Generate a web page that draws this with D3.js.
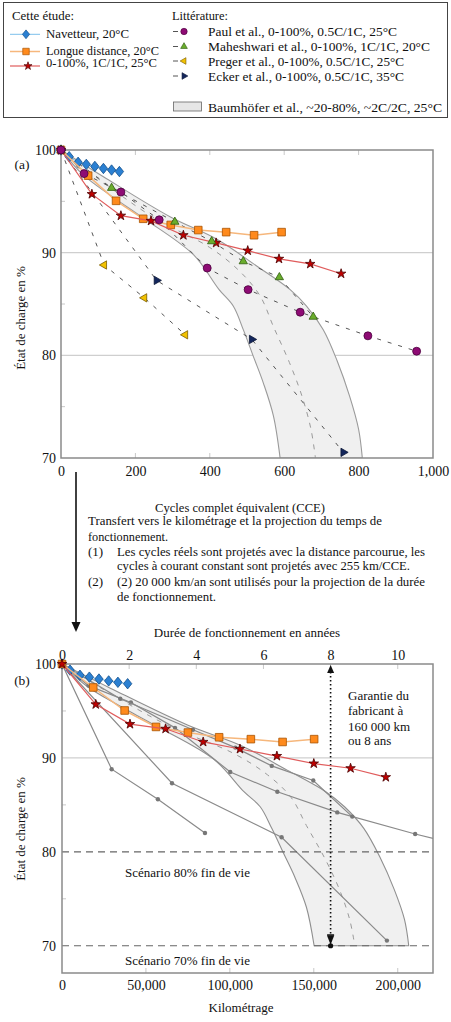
<!DOCTYPE html>
<html><head><meta charset="utf-8">
<script src="https://cdn.jsdelivr.net/npm/d3@7"></script>
<style>
body{margin:0;background:#fff}
svg{display:block}
text{font-family:"Liberation Serif","Times New Roman",serif;fill:#111}
</style>
</head><body>
<svg id="c" width="451" height="1022"></svg>
<script>
// ---------------- DATA ----------------
const KM_PER_CCE = 255;
const KM_PER_YEAR = 20000;

// Cette étude
const navCycles = [0, 22, 46, 68, 91, 114, 136, 157];
const navKm     = [0, 4800, 10700, 16300, 22000, 27800, 33300, 39100];
const navSoc    = [100, 99.35, 98.8, 98.6, 98.4, 98.2, 98.05, 97.9];

const ldCycles = [0, 73, 148, 221, 295, 369, 444, 519, 593];
const ldKm     = [0, 18600, 37300, 56000, 75000, 93600, 112500, 131400, 150200];
const ldSoc    = [100, 97.5, 95.05, 93.3, 92.7, 92.2, 92.0, 91.7, 92.0];

const ccCycles = [0, 83, 161, 242, 329, 417, 502, 586, 670, 753];
const ccKm     = [0, 20100, 40500, 61700, 84100, 106000, 128000, 150000, 171900, 192900];
const ccSoc    = [100, 95.7, 93.6, 93.1, 91.7, 90.95, 90.2, 89.4, 88.9, 87.95];

// Littérature
const paulCycles = [0, 62, 161, 264, 393, 503, 643, 825, 956];
const paulSoc    = [100, 97.7, 95.9, 93.2, 88.5, 86.4, 84.2, 81.9, 80.4];

const mahCycles = [0, 136, 306, 405, 490, 587, 678];
const mahSoc    = [100, 96.3, 93.0, 91.1, 89.15, 87.6, 83.75];

const pregCycles = [0, 116, 224, 334];
const pregSoc    = [100, 88.8, 85.6, 82.0];

const eckCycles = [0, 257, 513, 759];
const eckSoc    = [100, 87.3, 81.55, 70.55];

// Baumhöfer band
const bandLeftCycles  = [0, 59, 132, 220, 356, 425, 463, 490, 517, 544, 571, 589];
const bandLeftSoc     = [100, 97.6, 95.6, 93.4, 89.8, 86.4, 84.8, 82.5, 79.9, 77.3, 74.1, 70];
const bandRightCycles = [0, 114, 293, 419, 526, 616, 660, 705, 742, 776, 800, 810];
const bandRightSoc    = [100, 97.4, 93.5, 91.3, 88.7, 86.4, 84.8, 82.5, 79.5, 76.0, 72.8, 70];
const bandMidCycles   = [0, 100, 250, 400, 480, 535, 571, 614, 648, 672, 684];
const bandMidSoc      = [100, 97.2, 93.4, 90.5, 88.2, 85.8, 82.8, 79.3, 76.0, 72.8, 70];

// Ticks
const cycleTicks = [0, 200, 400, 600, 800, 1000];
const kmTicks    = [0, 50000, 100000, 150000, 200000];
const yearTicks  = [0, 2, 4, 6, 8, 10];
const socTicksA  = [70, 80, 90, 100];
const socTicksB  = [70, 80, 90, 100];
const minorSoc   = [75, 85, 95];
const warrantyKm = 160000;

// ---------------- STYLES ----------------
const zip = (a, b) => a.map((v, i) => [v, b[i]]);
const diamondSym = { draw(ctx, size) { const w = 4.2, h = 5.2; ctx.moveTo(0, -h); ctx.lineTo(w, 0); ctx.lineTo(0, h); ctx.lineTo(-w, 0); ctx.closePath(); } };
const studySeries = [
  {name:"Navetteur,  20°C", w:83, cyc:navCycles, km:navKm, soc:navSoc, line:"#7cc0ec", lw:1, sym:diamondSym, size:1, fill:"#2b80d2", stroke:"#134f8c", rot:0},
  {name:"Longue distance, 20°C", w:113, cyc:ldCycles, km:ldKm, soc:ldSoc, line:"#f6b77c", lw:1.5, sym:d3.symbolSquare, size:58, fill:"#ff8a1c", stroke:"#a85300", rot:0},
  {name:"0-100%,  1C/1C,  25°C", w:111, cyc:ccCycles, km:ccKm, soc:ccSoc, line:"#e05c5c", lw:1.2, sym:d3.symbolStar, size:28, fill:"#c00000", stroke:"#4a0000", rot:0}
];
const litSeries = [
  {name:"Paul et al., 0-100%, 0.5C/1C, 25°C", w:189, cyc:paulCycles, soc:paulSoc, sym:d3.symbolCircle, size:50, fill:"#8e0b74", stroke:"#4a003c", rot:0},
  {name:"Maheshwari et al., 0-100%, 1C/1C, 20°C", w:222, cyc:mahCycles, soc:mahSoc, sym:d3.symbolTriangle, size:30, fill:"#6aad2c", stroke:"#2e5c0e", rot:0},
  {name:"Preger et al., 0-100%, 0.5C/1C, 25°C", w:196, cyc:pregCycles, soc:pregSoc, sym:d3.symbolTriangle, size:30, fill:"#f2c200", stroke:"#7a5c00", rot:-90},
  {name:"Ecker et al., 0-100%, 0.5C/1C, 35°C", w:196, cyc:eckCycles, soc:eckSoc, sym:d3.symbolTriangle, size:30, fill:"#13265c", stroke:"#0a1535", rot:90}
];

const svg = d3.select("#c");

function marker(g, x, y, s, scale) {
  g.append("path")
    .attr("d", d3.symbol().type(s.sym).size(s.size)())
    .attr("transform", `translate(${x},${y}) rotate(${s.rot}) scale(${scale || 1})`)
    .attr("fill", s.fill).attr("stroke", s.stroke).attr("stroke-width", 0.8);
}
function fitText(g, x, y, t, w, fs) {
  const el = g.append("text").attr("x", x).attr("y", y).attr("font-size", fs).text(t);
  if (w) el.attr("textLength", w).attr("lengthAdjust", "spacingAndGlyphs");
  return el;
}

// ---------------- LEGEND ----------------
const lg = svg.append("g");
lg.append("rect").attr("x", 3.5).attr("y", 2.5).attr("width", 444).attr("height", 115)
  .attr("fill", "none").attr("stroke", "#444").attr("stroke-width", 1);
fitText(lg, 12, 20, "Cette étude:", 62, 12.5);
fitText(lg, 172, 20, "Littérature:", 56, 12.5);
const studyRowY = [34.3, 51.5, 66];
const studyTextY = [37.5, 54.5, 67];
const studyMarkX = [26, 26, 28];
studySeries.forEach((s, i) => {
  lg.append("line").attr("x1", 10).attr("x2", 40).attr("y1", studyRowY[i]).attr("y2", studyRowY[i])
    .attr("stroke", s.line).attr("stroke-width", s.lw);
  marker(lg, studyMarkX[i], studyRowY[i], s, 0.85);
  fitText(lg, 46, studyTextY[i], s.name, s.w, 11.5);
});
const litRowY = [31.5, 46.5, 61, 76];
litSeries.forEach((s, i) => {
  lg.append("line").attr("x1", 173).attr("x2", 178).attr("y1", litRowY[i]).attr("y2", litRowY[i])
    .attr("stroke", "#555").attr("stroke-width", 1);
  marker(lg, 184, litRowY[i], s, 0.8);
  fitText(lg, 208, litRowY[i] + 4.5, s.name, s.w, 13.5);
});
lg.append("rect").attr("x", 173.5).attr("y", 102).attr("width", 28).attr("height", 9)
  .attr("fill", "#e6e6e6").attr("stroke", "#666").attr("stroke-width", 0.8);
fitText(lg, 208, 111.5, "Baumhöfer et al., ~20-80%, ~2C/2C, 25°C", 234, 13.5);

// ---------------- PANEL helper ----------------
function bandPath(x, y, f) {
  const ln = d3.line().x(d => x(d[0] * f)).y(d => y(d[1])).curve(d3.curveCatmullRom.alpha(0.5));
  const L = zip(bandLeftCycles, bandLeftSoc);
  const R = zip(bandRightCycles, bandRightSoc).reverse();
  return ln(L) + ln(R).replace(/^M/, "L") + "Z";
}
function clip(g, id, xr, yr) {
  g.append("clipPath").attr("id", id).append("rect")
    .attr("x", xr[0]).attr("y", yr[1]).attr("width", xr[1] - xr[0]).attr("height", yr[0] - yr[1]);
}
function styleAxis(a) {
  a.select(".domain").remove();
  a.selectAll("text").attr("font-size", 14).attr("font-family", '"Liberation Serif",serif').attr("fill", "#111");
}

// ---------------- PANEL A ----------------
const xA = d3.scaleLinear().domain([0, 1000]).range([61, 433]);
const yA = d3.scaleLinear().domain([70, 100]).range([458, 150]);
const gA = svg.append("g");
clip(gA, "clipA", xA.range(), yA.range());
[80, 90].forEach(v => gA.append("line").attr("x1", xA(0)).attr("x2", xA(1000)).attr("y1", yA(v)).attr("y2", yA(v))
  .attr("stroke", "#cfcfcf").attr("stroke-width", 1.2));
minorSoc.forEach(v => gA.append("line").attr("x1", xA(0)).attr("x2", xA(0) + 4).attr("y1", yA(v)).attr("y2", yA(v))
  .attr("stroke", "#c8c8c8"));
cycleTicks.slice(1, -1).forEach(v => {
  gA.append("line").attr("x1", xA(v)).attr("x2", xA(v)).attr("y1", yA(100)).attr("y2", yA(100) + 5).attr("stroke", "#c8c8c8");
  gA.append("line").attr("x1", xA(v)).attr("x2", xA(v)).attr("y1", yA(70)).attr("y2", yA(70) - 5).attr("stroke", "#c8c8c8");
});
const plotA = gA.append("g").attr("clip-path", "url(#clipA)");
plotA.append("path").attr("d", bandPath(xA, yA, 1)).attr("fill", "#f0f0f0").attr("stroke", "#9a9a9a").attr("stroke-width", 1.1);
plotA.append("path").datum(zip(bandMidCycles, bandMidSoc))
  .attr("d", d3.line().x(d => xA(d[0])).y(d => yA(d[1])).curve(d3.curveCatmullRom.alpha(0.5)))
  .attr("fill", "none").attr("stroke", "#9a9a9a").attr("stroke-width", 1).attr("stroke-dasharray", "5,6");
litSeries.forEach(s => {
  plotA.append("path").datum(zip(s.cyc, s.soc))
    .attr("d", d3.line().x(d => xA(d[0])).y(d => yA(d[1])))
    .attr("fill", "none").attr("stroke", "#555").attr("stroke-width", 1).attr("stroke-dasharray", "4,7");
});
gA.append("rect").attr("x", 61).attr("y", 150).attr("width", 372).attr("height", 308)
  .attr("fill", "none").attr("stroke", "#8a8a8a").attr("stroke-width", 1.5);
studySeries.forEach(s => {
  gA.append("path").datum(zip(s.cyc, s.soc))
    .attr("d", d3.line().x(d => xA(d[0])).y(d => yA(d[1])))
    .attr("fill", "none").attr("stroke", s.line).attr("stroke-width", s.lw);
  zip(s.cyc, s.soc).forEach(d => marker(gA, xA(d[0]), yA(d[1]), s));
});
litSeries.slice().reverse().forEach(s => zip(s.cyc, s.soc).forEach(d => marker(gA, xA(d[0]), yA(d[1]), s)));
const axA = gA.append("g").attr("transform", `translate(0,${yA(70)})`)
  .call(d3.axisBottom(xA).tickValues(cycleTicks).tickFormat(d3.format(",")).tickSize(0).tickPadding(8));
const ayA = gA.append("g").attr("transform", `translate(${xA(0)},0)`)
  .call(d3.axisLeft(yA).tickValues(socTicksA).tickSize(0).tickPadding(5));
styleAxis(axA); styleAxis(ayA);
gA.append("text").attr("x", 22).attr("y", 168.5).attr("font-size", 13.5).attr("text-anchor", "middle").text("(a)");
gA.append("text").attr("transform", "translate(25,318) rotate(-90)").attr("font-size", 13).attr("text-anchor", "middle").text("État de charge en %");
gA.append("text").attr("x", 240).attr("y", 512).attr("font-size", 13).attr("text-anchor", "middle")
  .attr("textLength", 170).attr("lengthAdjust", "spacingAndGlyphs").text("Cycles  complet équivalent (CCE)");

// ---------------- MIDDLE TEXT + ARROW ----------------
const mid = svg.append("g");
const midLines = [
  {x: 88, y: 525, w: 294, t: "Transfert vers le kilométrage  et la projection du temps de"},
  {x: 88, y: 541, w: 80, t: "fonctionnement."},
  {x: 88, y: 556, w: 0, t: "(1)"},
  {x: 117, y: 556, w: 308, t: "Les cycles réels sont projetés avec la distance parcourue, les"},
  {x: 117, y: 570, w: 293, t: "cycles à courant constant sont projetés avec 255 km/CCE."},
  {x: 88, y: 586, w: 0, t: "(2)"},
  {x: 117, y: 586, w: 308, t: "(2) 20 000  km/an sont utilisés pour la projection de la durée"},
  {x: 117, y: 601, w: 99, t: "de fonctionnement."}
];
midLines.forEach(l => fitText(mid, l.x, l.y, l.t, l.w, 13));
svg.append("line").attr("x1", 76).attr("x2", 76).attr("y1", 472).attr("y2", 624).attr("stroke", "#111").attr("stroke-width", 1.6);
svg.append("path").attr("d", "M71.5,622 L80.5,622 L76,632 Z").attr("fill", "#111");

// ---------------- PANEL B ----------------
const xB = d3.scaleLinear().domain([0, 221000]).range([62, 433]);
const yB = d3.scaleLinear().domain([67.1, 100]).range([973, 664]);
const xYears = d3.scaleLinear().domain([0, 221000 / KM_PER_YEAR]).range([62, 433]);
const gB = svg.append("g");
clip(gB, "clipB", xB.range(), yB.range());
gB.append("line").attr("x1", xB(0)).attr("x2", xB(221000)).attr("y1", yB(90)).attr("y2", yB(90)).attr("stroke", "#cfcfcf").attr("stroke-width", 1.2);
minorSoc.forEach(v => gB.append("line").attr("x1", xB(0)).attr("x2", xB(0) + 4).attr("y1", yB(v)).attr("y2", yB(v)).attr("stroke", "#c8c8c8"));
kmTicks.slice(1).forEach(v => gB.append("line").attr("x1", xB(v)).attr("x2", xB(v)).attr("y1", yB(67.1)).attr("y2", yB(67.1) - 5).attr("stroke", "#c8c8c8"));
yearTicks.slice(1).forEach(v => gB.append("line").attr("x1", xYears(v)).attr("x2", xYears(v)).attr("y1", yB(100)).attr("y2", yB(100) + 5).attr("stroke", "#c8c8c8"));
const plotB = gB.append("g").attr("clip-path", "url(#clipB)");
plotB.append("path").attr("d", bandPath(xB, yB, KM_PER_CCE)).attr("fill", "#f0f0f0").attr("stroke", "#8f8f8f").attr("stroke-width", 1.1);
plotB.append("path").datum(zip(bandMidCycles, bandMidSoc))
  .attr("d", d3.line().x(d => xB(d[0] * KM_PER_CCE)).y(d => yB(d[1])).curve(d3.curveCatmullRom.alpha(0.5)))
  .attr("fill", "none").attr("stroke", "#9a9a9a").attr("stroke-width", 1).attr("stroke-dasharray", "5,6");
[80, 70].forEach(v => gB.append("line").attr("x1", xB(0)).attr("x2", xB(221000)).attr("y1", yB(v)).attr("y2", yB(v))
  .attr("stroke", "#666").attr("stroke-width", 1.2).attr("stroke-dasharray", "7,5"));
litSeries.forEach(s => {
  const pts = zip(s.cyc.map(c => c * KM_PER_CCE), s.soc);
  plotB.append("path").datum(pts)
    .attr("d", d3.line().x(d => xB(d[0])).y(d => yB(d[1])))
    .attr("fill", "none").attr("stroke", "#8a8a8a").attr("stroke-width", 1.2);
  pts.slice(1).forEach(d => plotB.append("circle").attr("cx", xB(d[0])).attr("cy", yB(d[1])).attr("r", 2.2).attr("fill", "#777"));
});
// warranty line
const wx = xB(warrantyKm);
gB.append("line").attr("x1", wx).attr("x2", wx).attr("y1", yB(100) + 8).attr("y2", yB(70) - 8)
  .attr("stroke", "#111").attr("stroke-width", 1.6).attr("stroke-dasharray", "1.5,2.5");
gB.append("path").attr("d", `M${wx - 3.5},${yB(100) + 9} L${wx + 3.5},${yB(100) + 9} L${wx},${yB(100) + 1} Z`).attr("fill", "#111");
gB.append("rect").attr("x", wx - 3.5).attr("y", yB(70) - 11.5).attr("width", 7).attr("height", 1.6).attr("fill", "#111");
gB.append("path").attr("d", `M${wx - 3.5},${yB(70) - 10} L${wx + 3.5},${yB(70) - 10} L${wx},${yB(70) - 1} Z`).attr("fill", "#111");
gB.append("circle").attr("cx", wx).attr("cy", yB(70)).attr("r", 2.6).attr("fill", "#111");
gB.append("rect").attr("x", 62).attr("y", 664).attr("width", 371).attr("height", 309)
  .attr("fill", "none").attr("stroke", "#8a8a8a").attr("stroke-width", 1.5);
studySeries.forEach(s => {
  gB.append("path").datum(zip(s.km, s.soc))
    .attr("d", d3.line().x(d => xB(d[0])).y(d => yB(d[1])))
    .attr("fill", "none").attr("stroke", s.line).attr("stroke-width", s.lw);
  zip(s.km, s.soc).forEach(d => marker(gB, xB(d[0]), yB(d[1]), s));
});
const axB = gB.append("g").attr("transform", `translate(0,${yB(67.1)})`)
  .call(d3.axisBottom(xB).tickValues(kmTicks).tickFormat(d3.format(",")).tickSize(0).tickPadding(7));
const atB = gB.append("g").attr("transform", `translate(0,${yB(100)})`)
  .call(d3.axisTop(xYears).tickValues(yearTicks).tickSize(0).tickPadding(4));
const ayB = gB.append("g").attr("transform", `translate(${xB(0)},0)`)
  .call(d3.axisLeft(yB).tickValues(socTicksB).tickSize(0).tickPadding(6));
styleAxis(axB); styleAxis(atB); styleAxis(ayB);
gB.append("text").attr("x", 22).attr("y", 684.5).attr("font-size", 13.5).attr("text-anchor", "middle").text("(b)");
gB.append("text").attr("transform", "translate(25,829) rotate(-90)").attr("font-size", 13).attr("text-anchor", "middle").text("État  de charge en %");
gB.append("text").attr("x", 247).attr("y", 637).attr("font-size", 13).attr("text-anchor", "middle").text("Durée de fonctionnement en années");
gB.append("text").attr("x", 241).attr("y", 1012).attr("font-size", 13).attr("text-anchor", "middle").text("Kilométrage");
gB.append("text").attr("x", 125).attr("y", 877).attr("font-size", 13).text("Scénario  80% fin  de vie");
gB.append("text").attr("x", 125).attr("y", 965).attr("font-size", 13).text("Scénario  70% fin  de vie");
["Garantie  du", "fabricant à", "160  000  km", "ou 8 ans"].forEach((t, i) =>
  gB.append("text").attr("x", 348).attr("y", [699.5, 714.5, 730.5, 745][i]).attr("font-size", 13).text(t));
</script>
</body></html>
